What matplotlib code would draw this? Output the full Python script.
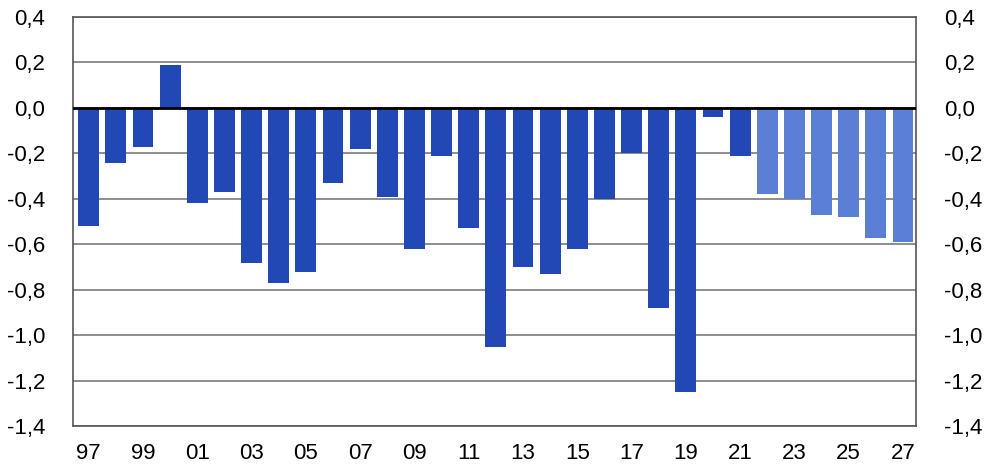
import numpy as np
import matplotlib.pyplot as plt

years = list(range(1997, 2028))
values = [-0.52, -0.24, -0.17, 0.19, -0.42, -0.37, -0.68, -0.77, -0.72, -0.33,
          -0.18, -0.39, -0.62, -0.21, -0.53, -1.05, -0.70, -0.73, -0.62, -0.40,
          -0.20, -0.88, -1.25, -0.04, -0.21, -0.38, -0.40, -0.47, -0.48, -0.57,
          -0.59]
last_actual = 2021
y_ticks = [0.4, 0.2, 0.0, -0.2, -0.4, -0.6, -0.8, -1.0, -1.2, -1.4]

plt.rcParams['font.family'] = ['Liberation Sans', 'DejaVu Sans']

dark = '#2148b4'
light = '#5a7fd4'
colors = [dark if y <= last_actual else light for y in years]

fig = plt.figure(figsize=(9.86, 4.73), dpi=100)
ax = fig.add_axes([0.074, 0.099, 0.855, 0.865])

x = np.arange(len(years))
ax.bar(x, values, width=0.77, color=colors, zorder=3)

ax.set_ylim(-1.4, 0.4)
ax.set_xlim(-0.58, len(years) - 0.52)
ax.set_yticks(y_ticks)
ax.set_yticklabels([f"{v:.1f}".replace('.', ',') for v in y_ticks])
ax.yaxis.grid(True, color='#7a7a7a', linewidth=1.2, zorder=0)
ax.axhline(0, color='black', linewidth=2, zorder=4)

ax.set_xticks(x[::2])
ax.set_xticklabels([f"{y % 100:02d}" for y in years[::2]])

ax.tick_params(axis='y', length=0, pad=20, labelsize=16,
               labelright=True, right=False)
ax.tick_params(axis='x', length=0, pad=12, labelsize=16)

for s in ax.spines.values():
    s.set_color('#555555')
    s.set_linewidth(1.2)

fig.savefig('out.png', dpi=100)
